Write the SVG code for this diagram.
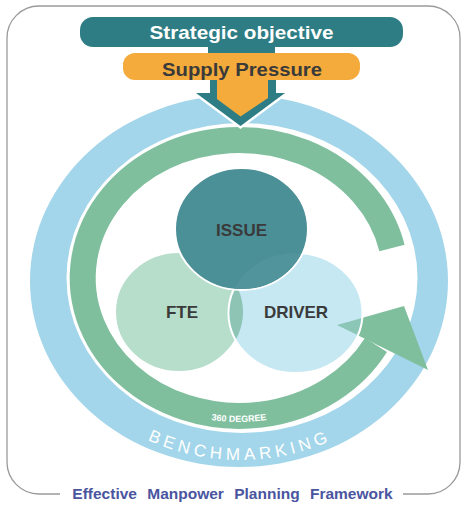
<svg xmlns="http://www.w3.org/2000/svg" width="466" height="507" viewBox="0 0 466 507">
  <defs>
    <style>
      .lbl { font-family: "Liberation Sans", Arial, sans-serif; font-weight: bold; }
      .node-text { font-size: 17px; fill: #3a3a3a; text-anchor: middle; }
      .circ { stroke: #ffffff; stroke-width: 2; }
    </style>
    <clipPath id="clipDriver">
      <ellipse cx="295.5" cy="313" rx="66" ry="59"/>
    </clipPath>
    <clipPath id="clipIssue">
      <ellipse cx="241.5" cy="229" rx="65.5" ry="60"/>
    </clipPath>
    <path id="bmPath" d="M40,282 A200,178 0 0 0 440,282"/>
    <path id="degPath" d="M74.5,278 A164.5,144 0 0 0 403.5,278"/>
  </defs>

  <rect width="466" height="507" fill="#ffffff"/>

  <g id="frame">
    <path d="M60,494 L39,494 A32,32 0 0 1 7,462 L7,38 A32,32 0 0 1 39,6 L428,6 A32,32 0 0 1 460,38 L460,462 A32,32 0 0 1 428,494 L403,494" fill="none" stroke="#9a9a9a" stroke-width="1.3"/>
  </g>

  <g id="ring-benchmarking">
    <path fill="#a3d6ea" fill-rule="evenodd" d="M30,281 a209,186 0 1,0 418,0 a209,186 0 1,0 -418,0 Z M66.5,278 a175.5,155 0 1,0 351,0 a175.5,155 0 1,0 -351,0 Z"/>
    <text font-family="Liberation Sans, Arial, sans-serif" font-size="17" fill="#ffffff" letter-spacing="4.3" text-anchor="middle"><textPath href="#bmPath" startOffset="50%">BENCHMARKING</textPath></text>
  </g>

  <g id="ring-360">
    <path d="M392,248 A156.5,138 0 1 0 376,345" fill="none" stroke="#80bf9e" stroke-width="26"/>
    <polygon points="337,325 404,306 428,370" fill="#80bf9e"/>
    <text class="lbl" font-size="9" fill="#ffffff" text-anchor="middle"><textPath href="#degPath" startOffset="50%">360 DEGREE</textPath></text>
  </g>

  <g id="node-fte">
    <ellipse class="circ" cx="179" cy="312" rx="64" ry="60" fill="#b6decb"/>
  </g>
  <g id="node-driver">
    <ellipse class="circ" cx="295.5" cy="313" rx="67" ry="60" fill="#c6e8f3"/>
    <polygon points="337,325 404,306 428,370" fill="#8cc6b7" clip-path="url(#clipDriver)"/>
    <ellipse cx="179" cy="312" rx="64" ry="60" fill="#8dc4b3" clip-path="url(#clipDriver)"/>
  </g>
  <g id="node-issue">
    <ellipse class="circ" cx="241.5" cy="229" rx="66.5" ry="61" fill="#4b8f97"/>
    <ellipse cx="295.5" cy="313" rx="67" ry="60" fill="#52949c" clip-path="url(#clipIssue)"/>
  </g>
  <text class="lbl node-text" x="241.5" y="236">ISSUE</text>
  <text class="lbl node-text" x="182" y="318">FTE</text>
  <text class="lbl node-text" x="296" y="318">DRIVER</text>

  <g id="connectors">
    <rect x="208" y="44" width="67" height="12" fill="#2e7d84"/>
    <polygon points="210,79 210,93 196,93 240.5,126 285,93 276,93 276,79" fill="#2e7d84" stroke="#ffffff" stroke-width="5" stroke-linejoin="miter" paint-order="stroke"/>
    <polygon points="217,76 268,76 268,98 240.5,116.5 217,99" fill="#f4ab3b"/>
  </g>

  <g id="strategic-objective">
    <rect x="80" y="17" width="323" height="30" rx="13" fill="#2e7d84"/>
    <text class="lbl" x="241.5" y="38.5" font-size="19" fill="#ffffff" text-anchor="middle" textLength="184" lengthAdjust="spacingAndGlyphs">Strategic objective</text>
  </g>

  <g id="supply-pressure">
    <rect x="123" y="53" width="237" height="27" rx="12" fill="#f4ab3b"/>
    <text class="lbl" x="242" y="75.5" font-size="18" fill="#3a3a3a" text-anchor="middle" textLength="160" lengthAdjust="spacingAndGlyphs">Supply Pressure</text>
  </g>

  <g id="caption">
    <text class="lbl" x="232.5" y="498.5" font-size="15.5" fill="#4a55a0" text-anchor="middle" word-spacing="6">Effective Manpower Planning Framework</text>
  </g>
</svg>
